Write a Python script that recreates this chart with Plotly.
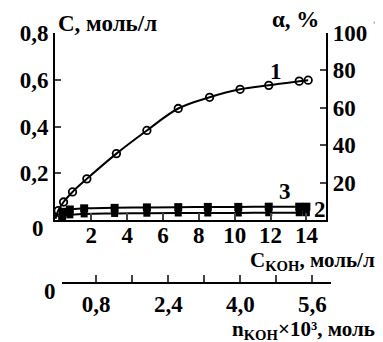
import plotly.graph_objects as go

# ---- data ----
c_koh_1 = [0.0, 0.15, 0.45, 0.95, 1.75, 3.4, 5.1, 6.85, 8.6, 10.3, 11.9, 13.6, 14.1]
conc_1 = [0.005, 0.04, 0.077, 0.12, 0.176, 0.284, 0.383, 0.477, 0.525, 0.559, 0.576, 0.594, 0.598]

c_koh_23 = [0.4, 0.8, 1.6, 3.3, 5.1, 6.85, 8.5, 10.2, 11.9, 13.6, 14.0]
conc_3 = [0.035, 0.045, 0.05, 0.052, 0.054, 0.055, 0.056, 0.056, 0.057, 0.057, 0.057]
conc_2 = [0.015, 0.022, 0.026, 0.028, 0.029, 0.030, 0.030, 0.030, 0.031, 0.031, 0.031]

x_ticks = [2, 4, 6, 8, 10, 12, 14]
y_ticks = [0.2, 0.4, 0.6, 0.8]
y_ticktext = ["0,2", "0,4", "0,6", "0,8"]
alpha_ticks = [20, 40, 60, 80, 100]
n_ticks = [0.05, 0.8, 1.6, 2.4, 3.2, 4.0, 4.8, 5.6, 6.0]
n_ticktext = ["", "0,8", "", "2,4", "", "4,0", "", "5,6", ""]

FONT = "Liberation Serif"
FS = 23
FS_T = 21
OFF = 8  # page body margin

fig = go.Figure()
fig.add_trace(go.Scatter(
    x=c_koh_1, y=conc_1, mode="lines+markers", line=dict(color="black", width=2, shape="spline"),
    marker=dict(symbol="circle-open", size=7.5, color="black", line=dict(width=1.8)),
    showlegend=False))
fig.add_trace(go.Scatter(
    x=c_koh_23, y=conc_3, mode="lines+markers", line=dict(color="black", width=2, shape="spline"),
    marker=dict(symbol="square", size=8, color="black"), showlegend=False))
fig.add_trace(go.Scatter(
    x=c_koh_23, y=conc_2, mode="lines+markers", line=dict(color="black", width=2, shape="spline"),
    marker=dict(symbol="square", size=7, color="black"), showlegend=False))
# invisible trace to activate the secondary (n) axis
fig.add_trace(go.Scatter(x=n_ticks, y=[0] * len(n_ticks), xaxis="x2", yaxis="y",
                         mode="markers", marker=dict(opacity=0), hoverinfo="skip", showlegend=False))
# invisible trace to activate the alpha axis
fig.add_trace(go.Scatter(x=[1], y=[0], yaxis="y2", mode="markers", marker=dict(opacity=0),
                         hoverinfo="skip", showlegend=False))

W, H = 383 - OFF, 342 - OFF
L, R, T, B = 50 - OFF, 52, 33 - OFF, 59
pw = W - L - R
ph = H - T - B

def px(xr):
    return (xr - OFF - L) / pw

def py(yr):
    return (H - B - (yr - OFF)) / ph

tf = dict(family=FONT, size=FS, color="black", weight="bold")
tft = dict(family=FONT, size=FS_T, color="black", weight="bold")

fig.update_layout(
    width=W, height=H, margin=dict(l=L, r=R, t=T, b=B),
    paper_bgcolor="white", plot_bgcolor="rgba(0,0,0,0)",
    font=dict(family=FONT, size=FS, color="black"),
    xaxis=dict(domain=[0, px(326)], range=[-0.027, 15.1], anchor="y",
               tickvals=x_ticks, ticks="inside", ticklen=7, tickwidth=2,
               showline=True, linecolor="black", linewidth=2, showgrid=False, zeroline=False,
               tickfont=tf, ticklabelstandoff=-7),
    yaxis=dict(domain=[py(220), 1], range=[0, 0.8], anchor="x",
               tickvals=y_ticks, ticktext=y_ticktext, ticks="inside", ticklen=6, tickwidth=2,
               showline=True, linecolor="black", linewidth=2, showgrid=False, zeroline=False,
               tickfont=tf),
    yaxis2=dict(overlaying="y", side="right", range=[0, 100], anchor="x",
                tickvals=alpha_ticks, ticks="inside", ticklen=6, tickwidth=2,
                showline=True, linecolor="black", linewidth=2, showgrid=False, zeroline=False,
                tickfont=tf),
    xaxis2=dict(domain=[px(57), 1], range=[0.037, 6.015], anchor="free", position=0,
                tickvals=n_ticks, ticktext=n_ticktext, ticks="inside", ticklen=7, tickwidth=2,
                showline=True, linecolor="black", linewidth=2, showgrid=False, zeroline=False,
                tickfont=tf),
)

ann = [
    dict(text="C, моль/л", x=px(51), y=py(24), xanchor="left", yanchor="middle", font=tf),
    dict(text="α, %", x=px(321), y=py(20), xanchor="right", yanchor="middle", font=tf),
    dict(text="C<sub>KOH</sub>, моль/л", x=px(378), y=py(261), xanchor="right", yanchor="middle", font=tft),
    dict(text="n<sub>KOH</sub>×10³, моль", x=px(378), y=py(330), xanchor="right", yanchor="middle", font=tft),
    dict(text="0", x=px(33), y=py(228), xanchor="center", yanchor="middle", font=tf),
    dict(text="0", x=px(45), y=py(291), xanchor="center", yanchor="middle", font=tf),
    dict(text="*", x=px(376), y=py(25), xanchor="center", yanchor="middle",
         font=dict(family=FONT, size=8, color="#888888")),
]
for a in ann:
    fig.add_annotation(xref="paper", yref="paper", showarrow=False, **a)

for txt, xv, yv in [("1", 12.3, 0.637), ("3", 12.8, 0.12), ("2", 14.75, 0.043)]:
    fig.add_annotation(xref="x", yref="y", x=xv, y=yv, text=txt, showarrow=False, font=tf)

fig.write_html("out.html")
